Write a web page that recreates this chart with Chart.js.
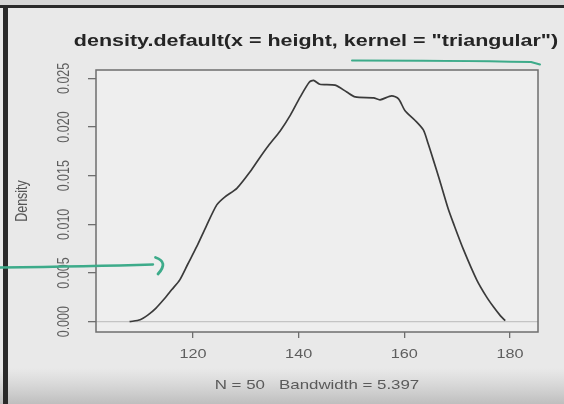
<!DOCTYPE html>
<html>
<head>
<meta charset="utf-8">
<script src="https://cdn.jsdelivr.net/npm/chart.js@4.4.1/dist/chart.umd.min.js"></script>
<style>
  html, body { margin: 0; padding: 0; background: #e9e9e9; overflow: hidden; }
  #wrap { position: relative; width: 564px; height: 404px; }
</style>
</head>
<body>
<div id="wrap"><canvas id="c" width="564" height="404"></canvas></div>
<script>
// Kernel density estimate of height (triangular kernel), sampled along the grid
const heightGrid = [
  108.0, 110.0, 111.5, 113.0, 114.5, 116.0, 117.5, 119.0, 120.7, 122.5,
  124.5, 126.0, 128.3, 130.8, 132.7, 134.3, 136.5, 138.4, 140.3, 142.0,
  142.8, 144.0, 146.9, 149.1, 150.7, 154.2, 155.4, 157.6, 158.9, 160.1,
  162.0, 163.6, 164.5, 165.5, 166.7, 168.3, 169.3, 171.2, 173.7, 175.5,
  176.9, 178.2, 179.1
];
const densityValues = [
  0.0000, 0.0002, 0.0007, 0.0014, 0.0023, 0.0033, 0.0043, 0.0059, 0.0077, 0.0098,
  0.0120, 0.0128, 0.0137, 0.0154, 0.0169, 0.0181, 0.0196, 0.0212, 0.0231, 0.0246,
  0.0248, 0.0244, 0.0243, 0.0236, 0.0231, 0.0230, 0.0228, 0.0232, 0.0229, 0.0217,
  0.0207, 0.0197, 0.0183, 0.0166, 0.0145, 0.0116, 0.0101, 0.0074, 0.0043, 0.0026,
  0.0015, 0.0006, 0.0001
];
const xTickValues = [120, 140, 160, 180];
const yTickValues = [0, 0.005, 0.010, 0.015, 0.020, 0.025];

const mainTitle = 'density.default(x = height, kernel = "triangular")';
const subTitle = 'N = 50   Bandwidth = 5.397';
const yAxisTitle = 'Density';

const FONT = '"Liberation Sans", Arial, Helvetica, sans-serif';
const WIDEN = 1.25; // text is drawn slightly widened horizontally

function drawText(ctx, text, x, y, font, color, vertical) {
  ctx.save();
  ctx.translate(x, y);
  ctx.scale(WIDEN, 1);
  if (vertical) ctx.rotate(-Math.PI / 2);
  ctx.font = font;
  ctx.fillStyle = color;
  ctx.textAlign = 'center';
  ctx.textBaseline = 'middle';
  ctx.fillText(text, 0, 0);
  ctx.restore();
}

const pageFrame = {
  id: 'pageFrame',
  beforeDraw(chart) {
    const ctx = chart.ctx;
    const W = chart.width, H = chart.height;
    ctx.save();
    ctx.fillStyle = '#e9e9e9';
    ctx.fillRect(0, 0, W, H);
    // darker band along the bottom edge
    const g = ctx.createLinearGradient(0, 368, 0, H);
    g.addColorStop(0, 'rgba(200,200,200,0)');
    g.addColorStop(1, 'rgba(190,190,190,1)');
    ctx.fillStyle = g;
    ctx.fillRect(0, 368, W, H - 368);
    // top strip and window edges
    ctx.fillStyle = '#d6d6d6';
    ctx.fillRect(0, 0, W, 5);
    ctx.fillStyle = '#2a2a2a';
    ctx.fillRect(0, 5, W, 3);
    ctx.fillRect(3, 5, 5, H - 5);
    // plot region
    const a = chart.chartArea;
    ctx.fillStyle = '#eeeeee';
    ctx.fillRect(a.left, a.top, a.right - a.left, a.bottom - a.top);
    ctx.restore();
  },
  beforeDatasetsDraw(chart) {
    const ctx = chart.ctx, a = chart.chartArea;
    const y0 = chart.scales.y.getPixelForValue(0);
    ctx.save();
    ctx.strokeStyle = '#c4c4c4';
    ctx.lineWidth = 1.2;
    ctx.beginPath();
    ctx.moveTo(a.left, y0);
    ctx.lineTo(a.right, y0);
    ctx.stroke();
    ctx.restore();
  },
  afterDraw(chart) {
    const ctx = chart.ctx, a = chart.chartArea;
    const xs = chart.scales.x, ys = chart.scales.y;
    ctx.save();
    // box around the plot region
    ctx.strokeStyle = '#6e6e6e';
    ctx.lineWidth = 1.5;
    ctx.strokeRect(a.left, a.top, a.right - a.left, a.bottom - a.top);

    // tick labels
    const tickFont = '13px ' + FONT;
    xs.ticks.forEach(t => {
      drawText(ctx, String(t.value), xs.getPixelForValue(t.value), 354, tickFont, '#5e5e5e', false);
    });
    ys.ticks.forEach(t => {
      drawText(ctx, t.value.toFixed(3), 65, ys.getPixelForValue(t.value), '12.5px ' + FONT, '#5e5e5e', true);
    });

    // titles
    const cx = (a.left + a.right) / 2;
    drawText(ctx, mainTitle, cx - 1, 41, 'bold 17.2px ' + FONT, '#252525', false);
    drawText(ctx, subTitle, cx, 385, '13.5px ' + FONT, '#5a5a5a', false);
    drawText(ctx, yAxisTitle, 23, (a.top + a.bottom) / 2, '12.5px ' + FONT, '#555555', true);

    // green pen marks
    ctx.strokeStyle = '#3dab8a';
    ctx.lineCap = 'round';
    ctx.lineJoin = 'round';
    ctx.lineWidth = 2;
    ctx.beginPath();
    ctx.moveTo(352, 60.5);
    ctx.quadraticCurveTo(450, 60.5, 531, 62);
    ctx.lineTo(540, 64.5);
    ctx.stroke();

    ctx.lineWidth = 2.4;
    ctx.beginPath();
    ctx.moveTo(0, 267.5);
    ctx.quadraticCurveTo(90, 266.5, 153, 264.5);
    ctx.stroke();
    ctx.lineWidth = 2.8;
    ctx.beginPath();
    ctx.moveTo(155.5, 257.5);
    ctx.quadraticCurveTo(169, 262, 158, 274);
    ctx.stroke();
    ctx.restore();
  }
};

new Chart(document.getElementById('c'), {
  type: 'line',
  data: {
    datasets: [{
      data: heightGrid.map((h, i) => ({ x: h, y: densityValues[i] })),
      borderColor: '#3a3a3a',
      borderWidth: 1.7,
      pointRadius: 0,
      tension: 0.25,
      fill: false
    }]
  },
  options: {
    responsive: false,
    animation: false,
    devicePixelRatio: 1,
    layout: { autoPadding: false, padding: { top: 70, right: 26, left: 0, bottom: 0 } },
    plugins: { legend: { display: false }, title: { display: false }, tooltip: { enabled: false } },
    scales: {
      x: {
        type: 'linear',
        min: 101.64,
        max: 185.3,
        afterBuildTicks: s => { s.ticks = xTickValues.map(v => ({ value: v })); },
        afterFit: s => { s.height = 72; },
        grid: { drawOnChartArea: false, drawTicks: true, tickLength: 6, color: '#6e6e6e', lineWidth: 1.3 },
        border: { display: false },
        ticks: { display: false }
      },
      y: {
        type: 'linear',
        min: -0.00106,
        max: 0.02586,
        afterBuildTicks: s => { s.ticks = yTickValues.map(v => ({ value: v })); },
        afterFit: s => { s.width = 96; },
        grid: { drawOnChartArea: false, drawTicks: true, tickLength: 8, color: '#6e6e6e', lineWidth: 1.3 },
        border: { display: false },
        ticks: { display: false }
      }
    }
  },
  plugins: [pageFrame]
});
</script>
</body>
</html>
